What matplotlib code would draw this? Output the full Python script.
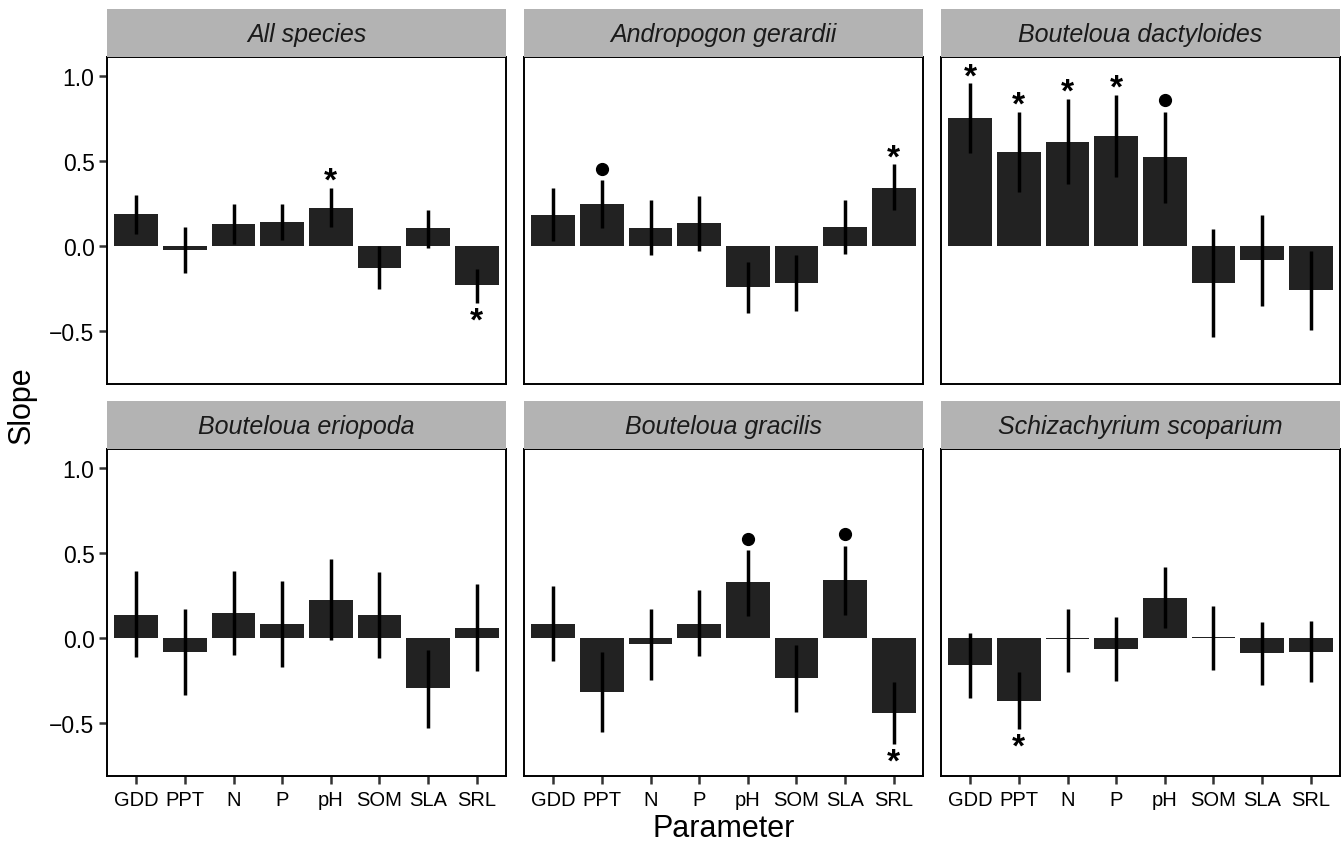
"""Faceted slope bar chart: six species panels, eight parameters each."""

import matplotlib

matplotlib.use("Agg")
import matplotlib.pyplot as plt
import numpy as np

plt.rcParams["font.family"] = ["Liberation Sans", "DejaVu Sans"]

PARAMETERS = ["GDD", "PPT", "N", "P", "pH", "SOM", "SLA", "SRL"]
SPECIES = [
    "All species",
    "Andropogon gerardii",
    "Bouteloua dactyloides",
    "Bouteloua eriopoda",
    "Bouteloua gracilis",
    "Schizachyrium scoparium",
]

# slope estimates per panel
all_species = [0.19, -0.025, 0.13, 0.14, 0.225, -0.127, 0.104, -0.23]
andropogon = [0.184, 0.247, 0.108, 0.133, -0.241, -0.218, 0.112, 0.343]
dactyloides = [0.749, 0.553, 0.61, 0.647, 0.52, -0.218, -0.084, -0.257]
eriopoda = [0.138, -0.079, 0.146, 0.081, 0.224, 0.134, -0.293, 0.059]
gracilis = [0.083, -0.315, -0.035, 0.083, 0.327, -0.236, 0.34, -0.439]
scoparium = [-0.16, -0.368, -0.004, -0.065, 0.238, 0.004, -0.089, -0.079]

# error bar ends (lower, upper)
all_species_lo = [0.07, -0.16, 0.014, 0.035, 0.11, -0.25, -0.01, -0.333]
all_species_hi = [0.30, 0.11, 0.245, 0.245, 0.34, 0.0, 0.214, -0.137]
andropogon_lo = [0.03, 0.108, -0.053, -0.03, -0.394, -0.382, -0.045, 0.21]
andropogon_hi = [0.34, 0.386, 0.27, 0.296, -0.092, -0.053, 0.272, 0.48]
dactyloides_lo = [0.547, 0.32, 0.367, 0.408, 0.25, -0.535, -0.353, -0.49]
dactyloides_hi = [0.955, 0.79, 0.863, 0.886, 0.79, 0.098, 0.18, -0.03]
eriopoda_lo = [-0.112, -0.335, -0.102, -0.171, -0.014, -0.116, -0.528, -0.195]
eriopoda_hi = [0.394, 0.173, 0.394, 0.335, 0.465, 0.388, -0.073, 0.315]
gracilis_lo = [-0.134, -0.55, -0.244, -0.106, 0.13, -0.437, 0.138, -0.624]
gracilis_hi = [0.303, -0.083, 0.169, 0.28, 0.518, -0.04, 0.543, -0.26]
scoparium_lo = [-0.35, -0.535, -0.2, -0.254, 0.06, -0.189, -0.276, -0.26]
scoparium_hi = [0.03, -0.2, 0.173, 0.122, 0.42, 0.189, 0.094, 0.1]

# significance marks: "*" p < 0.05, "." marginal, "" none
all_species_sig = ["", "", "", "", "*", "", "", "*"]
andropogon_sig = ["", ".", "", "", "", "", "", "*"]
dactyloides_sig = ["*", "*", "*", "*", ".", "", "", ""]
eriopoda_sig = ["", "", "", "", "", "", "", ""]
gracilis_sig = ["", "", "", "", ".", "", ".", "*"]
scoparium_sig = ["", "*", "", "", "", "", "", ""]

slopes = [all_species, andropogon, dactyloides, eriopoda, gracilis, scoparium]
lows = [all_species_lo, andropogon_lo, dactyloides_lo, eriopoda_lo, gracilis_lo, scoparium_lo]
highs = [all_species_hi, andropogon_hi, dactyloides_hi, eriopoda_hi, gracilis_hi, scoparium_hi]
marks = [all_species_sig, andropogon_sig, dactyloides_sig, eriopoda_sig, gracilis_sig, scoparium_sig]

W, H = 1344, 845
COL_X = [107, 524, 941]
PANEL_W = 399
ROW_TOP = [58, 450]
PANEL_H = 327
STRIP_H = 48

fig = plt.figure(figsize=(W / 100, H / 100), dpi=100)
x = np.arange(1, len(PARAMETERS) + 1)

for i, name in enumerate(SPECIES):
    row, col = divmod(i, 3)
    left = COL_X[col] / W
    bottom = 1 - (ROW_TOP[row] + PANEL_H) / H
    ax = fig.add_axes([left, bottom, PANEL_W / W, PANEL_H / H])
    strip = fig.add_axes([left, 1 - ROW_TOP[row] / H, PANEL_W / W, STRIP_H / H])
    strip.set_facecolor("#b3b3b3")
    strip.set_xticks([])
    strip.set_yticks([])
    for s in strip.spines.values():
        s.set_visible(False)
    strip.text(0.5, 0.47, name, ha="center", va="center", fontsize=18,
               style="italic", color="#1a1a1a", transform=strip.transAxes)

    ax.bar(x, slopes[i], width=0.9, color="#222222", linewidth=0)
    ax.vlines(x, lows[i], highs[i], color="black", linewidth=2.5)
    for xi, m, lo, hi, v in zip(x, marks[i], lows[i], highs[i], slopes[i]):
        if m == "*":
            y = hi + 0.095 if v > 0 else lo - 0.05
            ax.annotate("*", xy=(xi, y), xytext=(0, -13), textcoords="offset points",
                        ha="center", va="baseline", fontsize=24, fontweight="bold")
        elif m == ".":
            ax.plot(xi, hi + 0.065, "o", color="black", markersize=8.5)

    ax.set_xlim(0.4, 8.6)
    ax.set_ylim(-0.81, 1.11)
    ax.set_yticks([-0.5, 0.0, 0.5, 1.0])
    ax.set_xticks(x)
    ax.set_xticklabels(PARAMETERS)
    for s in ax.spines.values():
        s.set_linewidth(1.4)
        s.set_color("black")
    ax.tick_params(axis="both", direction="out", length=6, width=1.8, color="#333333")
    ax.tick_params(axis="y", labelsize=16.5, pad=3)
    ax.tick_params(axis="x", labelsize=14.5, pad=4)
    if col != 0:
        ax.tick_params(axis="y", left=False, labelleft=False)
    if row == 0:
        ax.tick_params(axis="x", bottom=False, labelbottom=False)

fig.text(22 / W, 1 - 405 / H, "Slope", rotation=90, ha="center", va="center", fontsize=22)
fig.text((COL_X[1] + PANEL_W / 2) / W, 1 - 829 / H, "Parameter", ha="center", va="center",
         fontsize=22)

fig.savefig("out.png", dpi=100)
plt.close(fig)
